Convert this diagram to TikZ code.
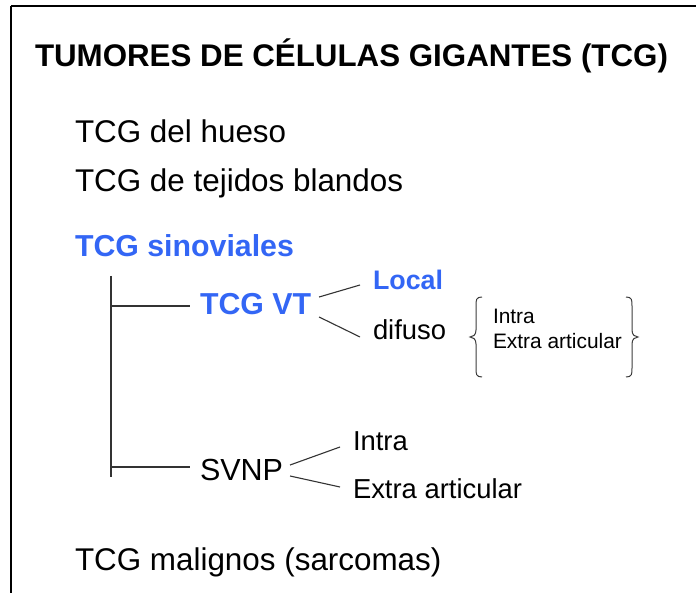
\documentclass[tikz,border=0pt]{standalone}
\usepackage{fontspec}
\setmainfont{Liberation Sans}
\definecolor{tcgblue}{RGB}{51,102,245}
\definecolor{bracegray}{RGB}{60,60,60}
\begin{document}
\begin{tikzpicture}[x=1pt,y=-1pt,
  txt/.style={anchor=base west,inner sep=0pt,outer sep=0pt},
  big/.style={txt,font=\fontsize{31.4}{36}\selectfont},
  mid/.style={txt,font=\fontsize{27.4}{32}\selectfont},
  small/.style={txt,font=\fontsize{20.9}{24}\selectfont},
  blue/.style={text=tcgblue,font=\bfseries\fontsize{30.3}{36}\selectfont},
  conn/.style={draw=black!80,line width=1.1pt},
  brc/.style={draw=bracegray,line width=1pt}]
\useasboundingbox (0,0) rectangle (696,593);
\fill[white] (0,0) rectangle (696,593);
% frame
\draw[line width=2pt] (11,6) -- (696,6);
\draw[line width=2pt] (11,6) -- (11,593);
% title
\node[txt,font=\bfseries\fontsize{31.3}{36}\selectfont] (title) at (35,67) {TUMORES DE CÉLULAS GIGANTES (TCG)};
% list
\node[big] (hueso) at (75,143) {TCG del hueso};
\node[big] (blandos) at (75,192) {TCG de tejidos blandos};
\node[txt,blue] (sinov) at (75,257) {TCG sinoviales};
\node[txt,blue] (vt) at (200,315) {TCG VT};
\node[txt,text=tcgblue,font=\bfseries\fontsize{26.8}{32}\selectfont] (local) at (373,290) {Local};
\node[mid] (difuso) at (373,340) {difuso};
\node[small] (bintra) at (493,324) {Intra};
\node[small] (bextra) at (493,349) {Extra articular};
\node[txt,font=\fontsize{30.5}{36}\selectfont] (svnp) at (200,480) {SVNP};
\node[mid] (sintra) at (353,450) {Intra};
\node[mid] (sextra) at (353,498) {Extra articular};
\node[big] (malig) at (75,570) {TCG malignos (sarcomas)};
% tree
\coordinate (trtop) at (111,276);
\coordinate (trbot) at (111,477);
\coordinate (trvt) at (111,306);
\coordinate (trsv) at (111,467);
\draw[conn] (trtop) -- (trbot);
\draw[conn] (trvt) -- ([shift={(-10,-9)}]vt.base west);
\draw[conn] (trsv) -- ([shift={(-10,-13)}]svnp.base west);
% VT branches
\draw[conn] ([shift={(8,-18)}]vt.base east) -- ([shift={(-13,-5)}]local.base west);
\draw[conn] ([shift={(8,2)}]vt.base east) -- ([shift={(-13,-3)}]difuso.base west);
% SVNP branches
\draw[conn] ([shift={(7,-15)}]svnp.base east) -- ([shift={(-13,-3)}]sintra.base west);
\draw[conn] ([shift={(7,-4)}]svnp.base east) -- ([shift={(-13,-11)}]sextra.base west);
% braces
\draw[brc] (482,297) .. controls (476,297) and (476,300) .. (476,306) -- (476,330)
  .. controls (476,335) and (473,337) .. (470,337)
  .. controls (473,337) and (476,339) .. (476,344) -- (476,368)
  .. controls (476,374) and (476,377) .. (482,377);
\draw[brc] (626,297) .. controls (632,297) and (632,300) .. (632,306) -- (632,330)
  .. controls (632,335) and (635,337) .. (638,337)
  .. controls (635,337) and (632,339) .. (632,344) -- (632,368)
  .. controls (632,374) and (632,377) .. (626,377);
\end{tikzpicture}
\end{document}
